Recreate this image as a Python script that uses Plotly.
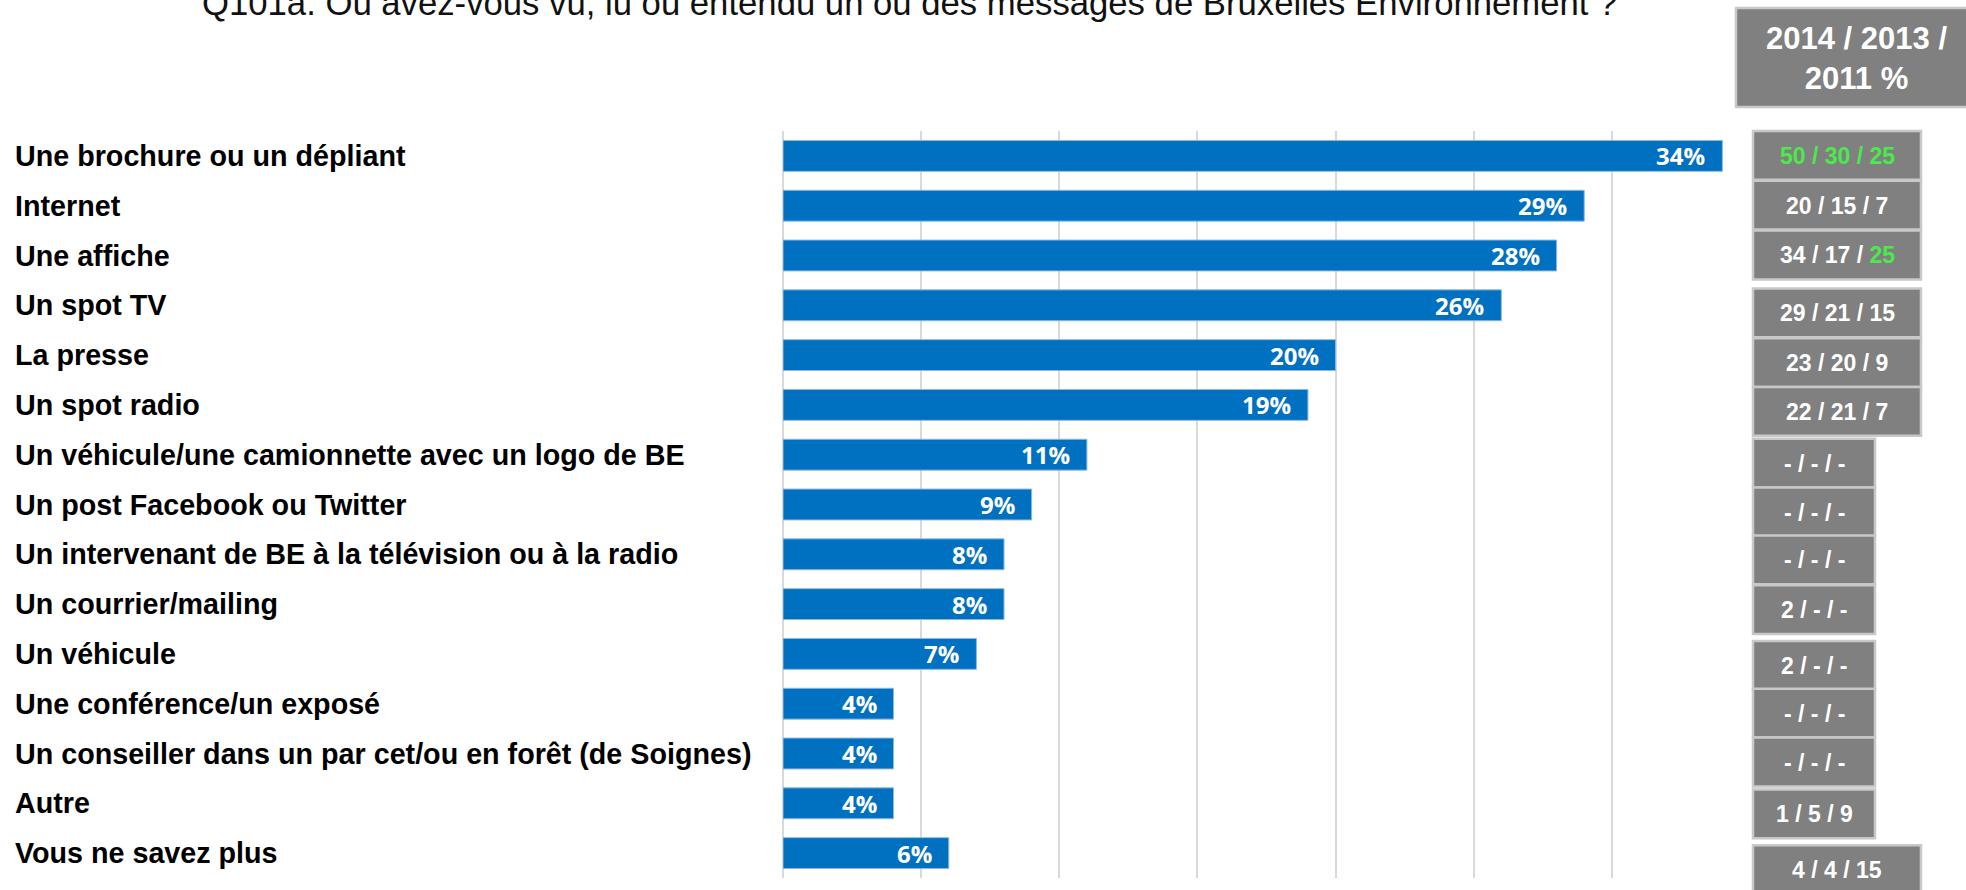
import plotly.graph_objects as go

# --- Data ---
categories = [
    "Une brochure ou un dépliant",
    "Internet",
    "Une affiche",
    "Un spot TV",
    "La presse",
    "Un spot radio",
    "Un véhicule/une camionnette avec un logo de BE",
    "Un post Facebook ou Twitter",
    "Un intervenant de BE à la télévision ou à la radio",
    "Un courrier/mailing",
    "Un véhicule",
    "Une conférence/un exposé",
    "Un conseiller dans un par cet/ou en forêt (de Soignes)",
    "Autre",
    "Vous ne savez plus",
]
pct_2015 = [34, 29, 28, 26, 20, 19, 11, 9, 8, 8, 7, 4, 4, 4, 6]
hist_2014 = ["50", "20", "34", "29", "23", "22", "-", "-", "-", "2", "2", "-", "-", "1", "4"]
hist_2013 = ["30", "15", "17", "21", "20", "21", "-", "-", "-", "-", "-", "-", "-", "5", "4"]
hist_2011 = ["25", "7", "25", "15", "9", "7", "-", "-", "-", "-", "-", "-", "-", "9", "15"]
# cells shown in green (row, column)
highlight = {(0, 0), (0, 1), (0, 2), (2, 2)}

title_text = "Q101a. Où avez-vous vu, lu ou entendu un ou des messages de Bruxelles Environnement ?"
header_text = "2014 / 2013 /<br>2011 %"

# --- Layout constants (pixels) ---
W, H = 1966, 890
ML, MR, MT, MB = 783, 216, 131, 12
PW = W - ML - MR
PH = H - MT - MB
N = len(categories)
ROW = PH / N

BLUE = "#0070C0"
GREEN = "#4CE94C"
BOX = "#808080"
BOX_LINE = "#C8C8C8"


def px_x(px):
    return (px - ML) / PW


def px_y(py):
    return (H - MB - py) / PH


def row_y(idx, shift_px=0):
    # category index (top = 0) -> paper y, so the side boxes are not clipped
    return px_y(MT + (idx + 0.5) * ROW + shift_px)


def cell_text(i):
    vals = [hist_2014[i], hist_2013[i], hist_2011[i]]
    green = [(i, j) in highlight for j in range(3)]
    out = ""
    for j, val in enumerate(vals):
        seg = val if j == 0 else " / " + val
        if j > 0 and not (green[j] and green[j - 1]):
            out += " / "
            seg = val
        if green[j]:
            seg = f"<span style='color:{GREEN}'>{seg}</span>"
        out += seg
    return out


# vertical drift of the history boxes (px) and box width per row
box_shift = [0, 0, 0, 8, 8, 7, 9, 8, 6, 6, 12, 10, 9, 11, 17]
box_wide = [True] * 6 + [False] * 8 + [True]

fig = go.Figure()

fig.add_trace(go.Bar(
    y=categories,
    x=pct_2015,
    orientation="h",
    marker=dict(color=BLUE, line=dict(color="#8FB8E0", width=1)),
    hoverinfo="x+y",
    showlegend=False,
))

annotations = []
shapes = []

# value labels inside bar ends
for cat, v in zip(categories, pct_2015):
    annotations.append(dict(
        x=v, y=cat, xref="x", yref="y", text=f"{v}%",
        xanchor="right", yanchor="middle", xshift=-15, showarrow=False,
        font=dict(family="Open Sans", size=24, color="white", weight="bold"),
    ))

# category labels, left aligned
for cat in categories:
    annotations.append(dict(
        x=px_x(13), y=cat, xref="paper", yref="y", text=cat,
        xanchor="left", yanchor="middle", showarrow=False,
        font=dict(family="Liberation Sans, Arial", size=28.7, color="black", weight="bold"),
    ))

# history boxes
for i in range(N):
    s = box_shift[i]
    x1 = 1921 if box_wide[i] else 1875
    y_top = row_y(i - 0.5, s)
    y_bot = row_y(i + 0.5, s - 1)
    if i == N - 1:
        y_bot = px_y(H + 20)
    shapes.append(dict(
        type="rect", xref="paper", yref="paper",
        x0=px_x(1753), x1=px_x(x1), y0=y_bot, y1=y_top,
        fillcolor=BOX, line=dict(color=BOX_LINE, width=2.5), layer="above",
    ))
    annotations.append(dict(
        x=px_x((1753 + x1) / 2), y=row_y(i, s), xref="paper", yref="paper",
        text=cell_text(i), xanchor="center", yanchor="middle", showarrow=False,
        font=dict(family="Liberation Sans, Arial", size=23, color="white", weight="bold"),
    ))

# header box
shapes.append(dict(
    type="rect", xref="paper", yref="paper",
    x0=px_x(1736), x1=px_x(2010), y0=px_y(107), y1=px_y(8),
    fillcolor=BOX, line=dict(color=BOX_LINE, width=2.5), layer="above",
))
annotations.append(dict(
    x=px_x(1856), y=px_y(59), xref="paper", yref="paper", text=header_text,
    xanchor="center", yanchor="middle", showarrow=False,
    font=dict(family="Liberation Sans, Arial", size=31, color="white", weight="bold"),
))

# title (cut at top edge as in the original slide)
annotations.append(dict(
    x=px_x(909), y=px_y(3), xref="paper", yref="paper", text=title_text,
    xanchor="center", yanchor="middle", showarrow=False,
    font=dict(family="Liberation Sans, Arial", size=34.7, color="#111111"),
))

fig.update_layout(
    width=W, height=H,
    margin=dict(l=ML, r=MR, t=MT, b=MB),
    paper_bgcolor="white", plot_bgcolor="white",
    bargap=0.38,
    xaxis=dict(
        range=[0, 35], dtick=5, showticklabels=False,
        showgrid=True, gridcolor="#D9D9D9", gridwidth=2,
        zeroline=True, zerolinecolor="#D9D9D9", zerolinewidth=2,
        fixedrange=True,
    ),
    yaxis=dict(
        range=[N - 0.5, -0.5], autorange=False, showticklabels=False,
        showgrid=False, zeroline=False, fixedrange=True,
    ),
    annotations=annotations,
    shapes=shapes,
)

# the page's default 8px body margin would shift the whole slide
fig.write_html(
    "out.html",
    config={"displayModeBar": False},
    post_script="document.body.style.margin='0';",
)
